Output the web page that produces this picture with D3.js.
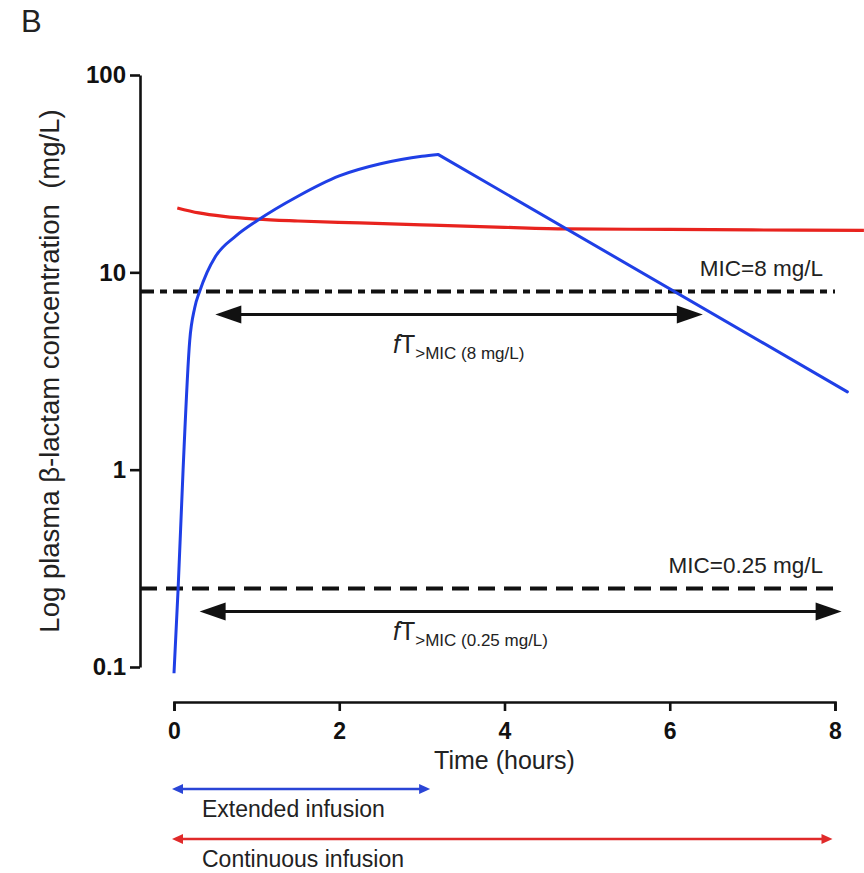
<!DOCTYPE html>
<html>
<head>
<meta charset="utf-8">
<script src="https://cdn.jsdelivr.net/npm/d3@7"></script>
<style>
  html, body { margin: 0; padding: 0; background: #fff; }
  svg { display: block; font-family: "Liberation Sans", Arial, Helvetica, sans-serif; }
</style>
</head>
<body>
<svg id="chart" width="864" height="873"></svg>
<script>
// Time axis ticks (hours) and log concentration ticks (mg/L)
const xTicks = [0, 2, 4, 6, 8];
const yTicks = [0.1, 1, 10, 100];

// Extended infusion: rise during the 3.2 h infusion, then log-linear elimination
const extendedRiseTime = [0, 0.05, 0.11, 0.19, 0.25, 0.31, 0.4, 0.5, 0.75, 1.0, 1.5, 2.0, 2.5, 2.75, 3.0, 3.2];
const extendedRiseConc = [0.093, 0.25, 1.0, 4.5, 6.6, 8.0, 10.0, 12.0, 15.3, 18.2, 24.3, 30.8, 35.5, 37.3, 38.7, 39.5];
const extendedDecayTime = [3.2, 8.15];
const extendedDecayConc = [39.5, 2.48];

// Continuous infusion: near steady state after a loading dose
const continuousTime = [0.04, 0.3, 0.6, 1.0, 1.5, 2.25, 3.0, 4.0, 4.75, 6.0, 7.0, 8.35];
const continuousConc = [21.2, 20.0, 19.2, 18.6, 18.2, 17.8, 17.4, 16.9, 16.6, 16.5, 16.4, 16.3];

// MIC reference lines
const micLevels = [8, 0.25];
const micLabels = ["MIC=8 mg/L", "MIC=0.25 mg/L"];
const micDash = ["14,6,7,6", "17,9"];

// fT>MIC spans (hours)
const ftStart = [0.5, 0.31];
const ftEnd = [6.4, 8.08];
const ftSub = [">MIC (8 mg/L)", ">MIC (0.25 mg/L)"];

// Infusion duration bars below the time axis
const infusionNames = ["Extended infusion", "Continuous infusion"];
const infusionStart = [0, 0];
const infusionEnd = [3.1, 7.97];
const infusionColors = ["#2a45d6", "#e02a2a"];

const svg = d3.select("#chart");

const x = d3.scaleLinear().domain([0, 8]).range([174, 835]);
const y = d3.scaleLog().domain([0.1, 100]).range([667, 75]);

// Panel letter
svg.append("text").attr("x", 21).attr("y", 32)
  .attr("font-size", 31).attr("fill", "#222").text("B");

// Y axis
const yAxis = svg.append("g").attr("transform", "translate(140,0)")
  .call(d3.axisLeft(y).tickValues(yTicks).tickFormat(d3.format("~g")).tickSize(10).tickSizeOuter(0).tickPadding(4));
yAxis.select(".domain").attr("stroke", "#111").attr("stroke-width", 2.6);
yAxis.selectAll(".tick line").attr("stroke", "#111").attr("stroke-width", 2.6);
yAxis.selectAll(".tick text").attr("font-size", 24).attr("font-weight", "bold")
  .attr("fill", "#111").attr("font-family", "Liberation Sans, Arial, sans-serif");

// X axis (offset below the plot)
const xAxis = svg.append("g").attr("transform", "translate(0,702)")
  .call(d3.axisBottom(x).tickValues(xTicks).tickSize(9).tickSizeOuter(9).tickPadding(12));
xAxis.select(".domain").attr("stroke", "#111").attr("stroke-width", 2.6);
xAxis.selectAll(".tick line").attr("stroke", "#111").attr("stroke-width", 2.6);
xAxis.selectAll(".tick text").attr("font-size", 23).attr("font-weight", "bold")
  .attr("fill", "#111").attr("font-family", "Liberation Sans, Arial, sans-serif");

// Axis titles
svg.append("text").attr("x", x(4)).attr("y", 769).attr("text-anchor", "middle")
  .attr("font-size", 25).attr("fill", "#222").text("Time (hours)");
svg.append("text").attr("transform", "translate(59,371) rotate(-90)")
  .attr("text-anchor", "middle").attr("font-size", 27.5).attr("fill", "#222")
  .text("Log plasma \u03b2-lactam concentration\u00a0\u00a0(mg/L)");

// MIC lines and labels
micLevels.forEach((m, i) => {
  svg.append("line").attr("x1", 140).attr("x2", x(8)).attr("y1", y(m)).attr("y2", y(m))
    .attr("stroke", "#111").attr("stroke-width", 4).attr("stroke-dasharray", micDash[i]);
  svg.append("text").attr("x", 823).attr("y", y(m) - 15).attr("text-anchor", "end")
    .attr("font-size", 22.5).attr("fill", "#222").text(micLabels[i]);
});

// Horizontal double-headed arrow helper
function arrow(x1, x2, yy, color, width, headLen, headHalf) {
  const g = svg.append("g");
  g.append("line").attr("x1", x1 + headLen * 0.6).attr("x2", x2 - headLen * 0.6)
    .attr("y1", yy).attr("y2", yy).attr("stroke", color).attr("stroke-width", width);
  g.append("path").attr("fill", color)
    .attr("d", `M${x1},${yy}L${x1 + headLen},${yy - headHalf}L${x1 + headLen},${yy + headHalf}Z`);
  g.append("path").attr("fill", color)
    .attr("d", `M${x2},${yy}L${x2 - headLen},${yy - headHalf}L${x2 - headLen},${yy + headHalf}Z`);
}

// fT>MIC arrows and labels
const ftLabelY = [353, 640];
micLevels.forEach((m, i) => {
  const ay = y(m) + 23;
  arrow(x(ftStart[i]), x(ftEnd[i]), ay, "#111", 3, 26, 9);
  const t = svg.append("text").attr("x", 393).attr("y", ftLabelY[i]).attr("fill", "#222");
  t.append("tspan").attr("font-size", 25).attr("font-style", "italic").text("f");
  t.append("tspan").attr("font-size", 25).text("T");
  t.append("tspan").attr("font-size", 17).attr("dy", 6).text(ftSub[i]);
});

// Concentration curves
const smoothLine = d3.line().x(d => x(d[0])).y(d => y(d[1])).curve(d3.curveMonotoneX);
const straightLine = d3.line().x(d => x(d[0])).y(d => y(d[1]));

svg.append("path")
  .datum(continuousTime.map((t, i) => [t, continuousConc[i]]))
  .attr("fill", "none").attr("stroke", "#e8231e").attr("stroke-width", 3.2)
  .attr("d", smoothLine);

svg.append("path")
  .datum(extendedRiseTime.map((t, i) => [t, extendedRiseConc[i]]))
  .attr("fill", "none").attr("stroke", "#1f3fe6").attr("stroke-width", 3)
  .attr("stroke-linejoin", "round").attr("d", smoothLine);
svg.append("path")
  .datum(extendedDecayTime.map((t, i) => [t, extendedDecayConc[i]]))
  .attr("fill", "none").attr("stroke", "#1f3fe6").attr("stroke-width", 3)
  .attr("stroke-linecap", "round").attr("d", straightLine);

// Infusion duration bars
const infY = [789, 839];
infusionNames.forEach((name, i) => {
  arrow(x(infusionStart[i]) - 2, x(infusionEnd[i]), infY[i], infusionColors[i], 2.5, 11, 5);
  svg.append("text").attr("x", 202).attr("y", infY[i] + 28)
    .attr("font-size", 23).attr("fill", "#222").text(name);
});
</script>
</body>
</html>
